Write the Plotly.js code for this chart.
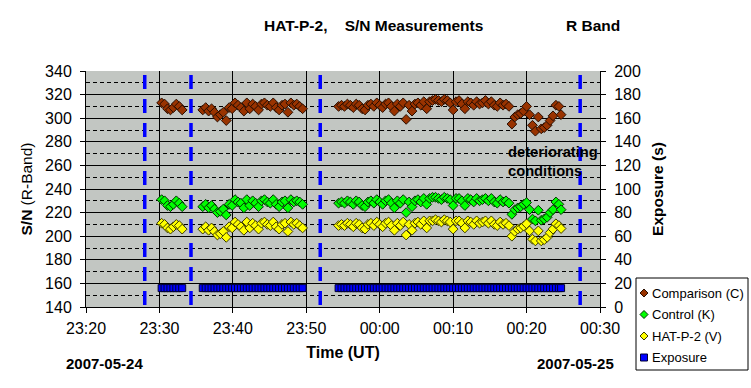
<!DOCTYPE html>
<html><head><meta charset="utf-8">
<script src="https://cdn.plot.ly/plotly-3.0.1.min.js"></script>
<style>html,body{margin:0;padding:0;background:#fff}#chart{width:751px;height:388px}</style>
</head><body><div id="chart"></div>
<script>
// ---- data (time in minutes after 23:20 UT, 2007-05-24) ----
const timeTickValues = [0, 10, 20, 30, 40, 50, 60, 70];
const timeTickLabels = ['23:20', '23:30', '23:40', '23:50', '00:00', '00:10', '00:20', '00:30'];

const minutesAfter2320 = [
  10.3, 10.7, 11.1, 11.5, 11.9, 12.3, 12.7, 13.1,
  15.9, 16.3, 16.7, 17.1, 17.5, 17.9, 18.3, 18.7, 19.1, 19.5, 19.9, 20.3, 20.7, 21.1, 21.5, 21.9, 22.3, 22.7,
  23.1, 23.5, 23.9, 24.3, 24.7, 25.1, 25.5, 25.9, 26.3, 26.7, 27.1, 27.5, 27.9, 28.3, 28.7, 29.1, 29.5,
  34.4, 34.8, 35.2, 35.6, 36.0, 36.4, 36.8, 37.2, 37.6, 38.0, 38.4, 38.8, 39.2, 39.6, 40.0, 40.4, 40.8, 41.2,
  41.6, 42.0, 42.4, 42.8, 43.2, 43.6, 44.0, 44.4, 44.8, 45.2, 45.6, 46.0, 46.4, 46.8, 47.2, 47.6, 48.0, 48.4,
  48.8, 49.2, 49.6, 50.0, 50.4, 50.8, 51.2, 51.6, 52.0, 52.4, 52.8, 53.2, 53.6, 54.0, 54.4, 54.8, 55.2, 55.6,
  56.0, 56.4, 56.8, 57.2, 57.6, 58.0, 58.4, 58.8, 59.2, 59.6, 60.0, 60.4, 60.8, 61.2, 61.6, 62.0, 62.4, 62.8,
  63.2, 63.6, 64.0, 64.4, 64.7
];

const comparisonC = [
  313, 312, 308, 307, 309, 312, 310, 307,
  307, 309, 306, 308, 305, 301, 303, 305, 298, 309, 308, 313, 311, 309, 306, 313, 308, 312,
  310, 307, 312, 313, 311, 310, 313, 309, 307, 311, 312, 305, 313, 311, 312, 310, 308,
  310, 311, 310, 312, 311, 309, 312, 311, 308, 307, 311, 312, 310, 313, 311, 309, 312, 313,
  310, 306, 312, 310, 313, 299, 311, 306, 312, 313, 311, 314, 308, 314, 315, 316, 315, 314,
  316, 315, 313, 307, 314, 315, 312, 308, 314, 313, 311, 314, 312, 313, 315, 312, 314, 311,
  310, 313, 311, 312, 310, 295, 301, 303, 304, 306, 310, 303, 294, 289, 301, 291, 292, 294,
  298, 302, 311, 310, 303
];

const controlK = [
  231, 230, 226, 225, 227, 230, 228, 225,
  225, 227, 224, 226, 223, 220, 221, 223, 218, 227, 226, 231, 229, 228, 224, 231, 226, 230,
  228, 225, 230, 231, 229, 228, 231, 227, 225, 229, 230, 224, 231, 229, 230, 229, 227,
  228, 229, 228, 230, 229, 227, 230, 229, 226, 225, 229, 230, 228, 231, 229, 227, 230, 231,
  228, 224, 230, 228, 231, 220, 229, 225, 230, 231, 229, 232, 227, 232, 233, 233, 232, 231,
  233, 232, 231, 226, 232, 232, 230, 226, 232, 231, 229, 232, 230, 231, 232, 230, 232, 229,
  228, 231, 229, 230, 228, 218.5, 222.5, 224, 225, 227, 228.5, 222.5, 214.5, 213, 222, 213.5, 214.5, 216,
  220, 222.5, 229, 227, 222.5
];

const hatp2V = [
  211, 210, 207, 206, 208, 210, 209, 206,
  206, 208, 205, 207, 204, 201, 202, 204, 199, 208, 207, 212, 210, 208, 205, 212, 207, 211,
  209, 206, 211, 212, 210, 209, 212, 208, 206, 210, 211, 204, 212, 210, 211, 209, 207,
  209, 210, 209, 211, 210, 208, 211, 210, 207, 206, 210, 211, 209, 212, 210, 208, 211, 212,
  209, 205, 211, 209, 212, 201, 210, 205, 211, 212, 210, 213, 207, 213, 213, 214, 213, 212,
  214, 213, 212, 206, 213, 213, 211, 207, 213, 212, 210, 213, 211, 212, 213, 211, 213, 210,
  209, 212, 210, 211, 209, 200, 204, 206, 207, 208.5, 210.5, 204.5, 197.5, 196, 204.5, 196, 197, 199,
  203, 206, 210.5, 209, 206.5
];

const exposureSec = [
  16, 16, 16, 16, 16, 16, 16, 16,
  16, 16, 16, 16, 16, 16, 16, 16, 16, 16, 16, 16, 16, 16, 16, 16, 16, 16,
  16, 16, 16, 16, 16, 16, 16, 16, 16, 16, 16, 16, 16, 16, 16, 16, 16,
  16, 16, 16, 16, 16, 16, 16, 16, 16, 16, 16, 16, 16, 16, 16, 16, 16, 16,
  16, 16, 16, 16, 16, 16, 16, 16, 16, 16, 16, 16, 16, 16, 16, 16, 16, 16,
  16, 16, 16, 16, 16, 16, 16, 16, 16, 16, 16, 16, 16, 16, 16, 16, 16, 16,
  16, 16, 16, 16, 16, 16, 16, 16, 16, 16, 16, 16, 16, 16, 16, 16, 16, 16,
  16, 16, 16, 16, 16
];

// blue dashed marker lines (minutes after 23:20)
const markerTimes = [8.0, 14.3, 31.9, 67.3];

const seriesNames = ['Comparison (C)', 'Control (K)', 'HAT-P-2 (V)', 'Exposure'];

// ---- styling / layout ----
const FONT = 'Arial, "Liberation Sans", sans-serif';
const W = 751, H = 388, ML = 86, MR = 151, MT = 71, MB = 81;
const PW = W - ML - MR, PH = H - MT - MB;
const px = x => (x - ML) / PW;          // pixel -> paper x
const py = y => (H - MB - y) / PH;      // pixel -> paper y

const mk = (sym, size, fill, edge) => ({symbol: sym, size: size, color: fill, line: {color: edge, width: 1}});

const traces = [
  {x: minutesAfter2320, y: comparisonC, name: seriesNames[0], type: 'scatter', mode: 'markers',
   marker: mk('diamond', 7.5, '#993300', '#2a0e00')},
  {x: minutesAfter2320, y: controlK, name: seriesNames[1], type: 'scatter', mode: 'markers',
   marker: mk('diamond', 7.5, '#00ff00', '#003300')},
  {x: minutesAfter2320, y: hatp2V, name: seriesNames[2], type: 'scatter', mode: 'markers',
   marker: mk('diamond', 7.5, '#ffff00', '#3a3a00')},
  {x: minutesAfter2320, y: exposureSec, name: seriesNames[3], type: 'scatter', mode: 'markers', yaxis: 'y2',
   marker: mk('square', 7, '#0000ff', '#000033')}
];

const shapes = markerTimes.map(t => ({
  type: 'line', xref: 'x', yref: 'paper', x0: t, x1: t, y0: 1, y1: 0, layer: 'above',
  line: {color: '#0000ff', width: 3.5, dash: '0px,4px,14px,6px'}
}));

// manual legend (box + symbols + text)
shapes.push({type: 'rect', xref: 'paper', yref: 'paper', x0: px(636), x1: px(748), y0: py(370), y1: py(278),
  line: {color: '#000', width: 1}, fillcolor: '#fff', layer: 'above'});
const legendRows = [293, 314.5, 336, 357.5];
const legendFill = ['#993300', '#00ff00', '#ffff00', '#0000ff'];
const legendEdge = ['#2a0e00', '#003300', '#3a3a00', '#000033'];
const annotations = [];
legendRows.forEach((cy, i) => {
  const cx = 644, r = i === 3 ? 3.5 : 4;
  let path;
  if (i === 3) {
    path = `M${px(cx - r)},${py(cy - r)}L${px(cx + r)},${py(cy - r)}L${px(cx + r)},${py(cy + r)}L${px(cx - r)},${py(cy + r)}Z`;
  } else {
    path = `M${px(cx - r)},${py(cy)}L${px(cx)},${py(cy - r)}L${px(cx + r)},${py(cy)}L${px(cx)},${py(cy + r)}Z`;
  }
  shapes.push({type: 'path', xref: 'paper', yref: 'paper', path: path, layer: 'above',
    fillcolor: legendFill[i], line: {color: legendEdge[i], width: 1}});
  annotations.push({xref: 'paper', yref: 'paper', x: px(650), y: py(cy), xanchor: 'left', yanchor: 'middle',
    showarrow: false, text: seriesNames[i], font: {family: FONT, size: 13, color: '#000'}});
});

annotations.push(
  {xref: 'paper', yref: 'paper', x: px(262), y: py(25), xanchor: 'left', yanchor: 'middle', showarrow: false,
   text: '<b>HAT-P-2,\u00a0\u00a0\u00a0 S/N Measurements</b>', font: {family: FONT, size: 15.5, color: '#000'}},
  {xref: 'paper', yref: 'paper', x: px(564), y: py(25), xanchor: 'left', yanchor: 'middle', showarrow: false,
   text: '<b>R Band</b>', font: {family: FONT, size: 15.5, color: '#000'}},
  {xref: 'paper', yref: 'paper', x: px(506), y: py(161), xanchor: 'left', yanchor: 'middle', align: 'left', showarrow: false,
   text: '<b>deteriorating<br>conditions</b>', font: {family: FONT, size: 14.7, color: '#000'}},
  {xref: 'paper', yref: 'paper', x: px(64), y: py(363), xanchor: 'left', yanchor: 'middle', showarrow: false,
   text: '<b>2007-05-24</b>', font: {family: FONT, size: 15, color: '#000'}},
  {xref: 'paper', yref: 'paper', x: px(616), y: py(363), xanchor: 'right', yanchor: 'middle', showarrow: false,
   text: '<b>2007-05-25</b>', font: {family: FONT, size: 15, color: '#000'}}
);

const tickFont = {family: FONT, size: 16, color: '#000'};
const layout = {
  width: W, height: H,
  margin: {l: ML, r: MR, t: MT, b: MB, pad: 0},
  paper_bgcolor: '#ffffff', plot_bgcolor: '#c2c6c2',
  font: {family: FONT, color: '#000'},
  showlegend: false,
  xaxis: {
    range: [0, 70], tickvals: timeTickValues, ticktext: timeTickLabels,
    ticks: 'outside', ticklen: 5, tickcolor: '#000', tickwidth: 1, tickfont: tickFont,
    showline: true, linecolor: '#000', linewidth: 1, mirror: false,
    showgrid: true, gridcolor: '#000', gridwidth: 1, zeroline: false, automargin: false,
    ticklabelstandoff: 2,
    title: {text: '<b>Time (UT)</b>', font: {family: FONT, size: 16, color: '#000'}, standoff: 10}
  },
  yaxis: {
    range: [140, 340], dtick: 20, tick0: 140,
    ticks: 'outside', ticklen: 5, tickcolor: '#000', tickfont: tickFont,
    showline: true, linecolor: '#000', linewidth: 1,
    showgrid: true, gridcolor: '#000', gridwidth: 1, zeroline: false, automargin: false,
    minor: {dtick: 10, tick0: 140, showgrid: true, gridcolor: '#000', gridwidth: 1, griddash: '4px,3px', ticks: ''},
    ticklabelstandoff: 5,
    title: {text: '<b>S/N</b> (R-Band)', font: {family: FONT, size: 15.5, color: '#000'}, standoff: 8}
  },
  yaxis2: {
    range: [0, 200], dtick: 20, tick0: 0, overlaying: 'y', side: 'right',
    ticks: 'outside', ticklen: 5, tickcolor: '#000', tickfont: tickFont,
    showline: true, linecolor: '#000', linewidth: 1,
    showgrid: false, zeroline: false, automargin: false,
    ticklabelstandoff: 5,
    title: {text: '<b>Exposure (s)</b>', font: {family: FONT, size: 15.5, color: '#000'}, standoff: 12}
  },
  shapes: shapes,
  annotations: annotations
};

Plotly.newPlot('chart', traces, layout, {displayModeBar: false, staticPlot: true});
</script>
</body></html>
